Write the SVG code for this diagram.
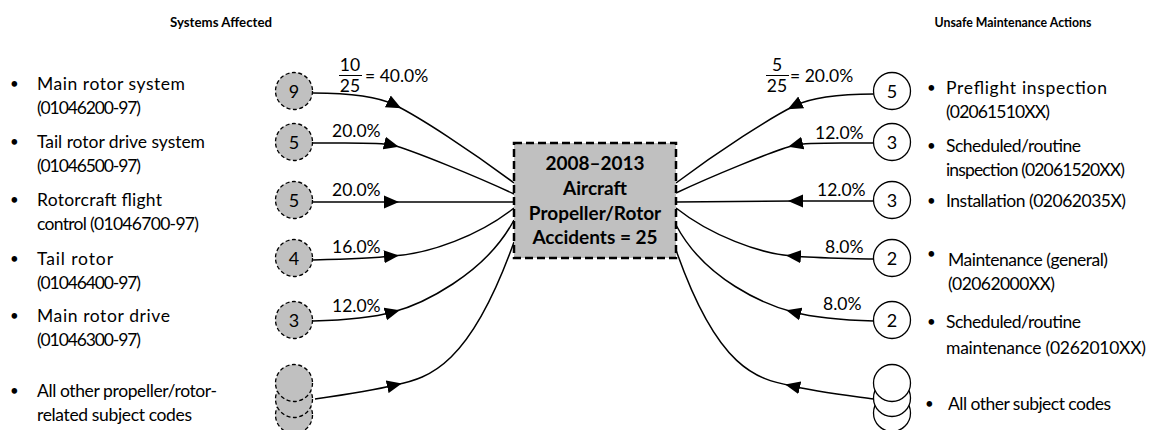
<svg xmlns="http://www.w3.org/2000/svg" width="1161" height="430" viewBox="0 0 1161 430">
<style>
.t{font-family:Lato,"Noto Sans",sans-serif;font-size:17.5px;fill:#000}
.d{font-family:Lato,"Noto Sans",sans-serif;font-size:15px;fill:#000}
.h{font-family:Lato,"Noto Sans",sans-serif;font-size:14px;font-weight:bold;fill:#000;text-anchor:middle}
.b{font-family:Lato,"Noto Sans",sans-serif;font-size:19px;font-weight:bold;fill:#000;text-anchor:middle}
.n{font-family:Lato,"Noto Sans",sans-serif;font-size:18px;fill:#000;text-anchor:middle}
.p{font-family:Lato,"Noto Sans",sans-serif;font-size:17.5px;fill:#000}
.gc{fill:#c0c0c0;stroke:#000;stroke-width:1.3;stroke-dasharray:4 2.5}
.wc{fill:#fff;stroke:#000;stroke-width:1.3}
.c{fill:none;stroke:#000;stroke-width:1.5;marker-mid:url(#arr)}
</style>
<defs>
<marker id="arr" markerUnits="userSpaceOnUse" markerWidth="16" markerHeight="14" refX="8" refY="6.5" orient="auto" viewBox="0 0 16 13">
<path d="M0,0 L15,6.5 L0,13 z" fill="#000"/>
</marker>
</defs>

<text class="h" x="221" y="27" textLength="102" lengthAdjust="spacingAndGlyphs">Systems Affected</text>
<text class="h" x="1013" y="27" textLength="157" lengthAdjust="spacingAndGlyphs">Unsafe Maintenance Actions</text>

<g id="connectors">
<path class="c" d="M313,93 C345,93 375,95 395,105 C420,117.5 470,150 514,183"/>
<path class="c" d="M313,143 C350,143 380,142 392,145 C412,150 480,178 514,194"/>
<path class="c" d="M313,202 L392,202 L514,202"/>
<path class="c" d="M313,260 C350,259 375,258 392,256 C430,254 480,235 514,208"/>
<path class="c" d="M313,321 C350,320 375,317 393,312 C420,305 485,275 514,220"/>
<path class="c" d="M315,399 C350,394 375,390 395,385 C430,378 470,365 514,242"/>

<path class="c" d="M874,94 C842,94 812,97 794,106 C770,118 720,150 676,183"/>
<path class="c" d="M874,143 C837,143 807,142 795,145 C775,150 710,177 676,193"/>
<path class="c" d="M874,201 L795,201 L676,202"/>
<path class="c" d="M874,259 C837,258 812,258 793,256 C760,254 710,235 676,208"/>
<path class="c" d="M874,321 C837,320 812,317 793,312 C766,305 705,280 676,225"/>
<path class="c" d="M874,399 C837,394 812,391 792,386 C757,379 718,370 676,250"/>
</g>

<g id="center-box">
<rect x="514" y="143" width="162" height="115" fill="#c0c0c0" stroke="#000" stroke-width="2.5" stroke-dasharray="8 4"/>
<text class="b" x="595" y="170">2008–2013</text>
<text class="b" x="595" y="195">Aircraft</text>
<text class="b" x="595" y="220">Propeller/Rotor</text>
<text class="b" x="595" y="244">Accidents = 25</text>
</g>

<g id="left-1">
<circle class="gc" cx="294" cy="91" r="18.5"/>
<text class="n" x="294" y="97.5">9</text>
<text class="d" x="10" y="89">•</text><text class="t" x="37" y="90" textLength="148" lengthAdjust="spacing">Main rotor system</text>
<text class="t" x="37" y="114" textLength="104" lengthAdjust="spacing">(01046200-97)</text>
<text class="p" x="350" y="71" text-anchor="middle">10</text>
<line x1="339" y1="75.5" x2="362" y2="75.5" stroke="#000" stroke-width="1"/>
<text class="p" x="350" y="92" text-anchor="middle">25</text>
<text class="p" x="365" y="82">= 40.0%</text>
</g>
<g id="left-2">
<circle class="gc" cx="294" cy="142" r="18.5"/>
<text class="n" x="294" y="148.5">5</text>
<text class="d" x="10" y="147">•</text><text class="t" x="37" y="148" textLength="168" lengthAdjust="spacing">Tail rotor drive system</text>
<text class="t" x="37" y="172" textLength="104" lengthAdjust="spacing">(01046500-97)</text>
<text class="p" x="332" y="137">20.0%</text>
</g>
<g id="left-3">
<circle class="gc" cx="294" cy="200" r="18.5"/>
<text class="n" x="294" y="206.5">5</text>
<text class="d" x="10" y="205">•</text><text class="t" x="37" y="206" textLength="125" lengthAdjust="spacing">Rotorcraft flight</text>
<text class="t" x="37" y="230" textLength="162" lengthAdjust="spacing">control (01046700-97)</text>
<text class="p" x="332" y="196">20.0%</text>
</g>
<g id="left-4">
<circle class="gc" cx="294" cy="258" r="18.5"/>
<text class="n" x="294" y="264.5">4</text>
<text class="d" x="10" y="264">•</text><text class="t" x="37" y="265" textLength="76" lengthAdjust="spacing">Tail rotor</text>
<text class="t" x="37" y="289" textLength="104" lengthAdjust="spacing">(01046400-97)</text>
<text class="p" x="332" y="253">16.0%</text>
</g>
<g id="left-5">
<circle class="gc" cx="294" cy="320" r="18.5"/>
<text class="n" x="294" y="326.5">3</text>
<text class="d" x="10" y="321">•</text><text class="t" x="37" y="322" textLength="133" lengthAdjust="spacing">Main rotor drive</text>
<text class="t" x="37" y="346" textLength="104" lengthAdjust="spacing">(01046300-97)</text>
<text class="p" x="332" y="312">12.0%</text>
</g>
<g id="left-6">
<circle class="gc" cx="294" cy="415" r="18.5"/>
<circle class="gc" cx="294" cy="399" r="18.5"/>
<circle class="gc" cx="294" cy="383" r="18.5"/>
<text class="d" x="10" y="396">•</text><text class="t" x="37" y="397" textLength="180" lengthAdjust="spacing">All other propeller/rotor-</text>
<text class="t" x="37" y="421" textLength="155" lengthAdjust="spacing">related subject codes</text>
</g>

<g id="right-1">
<circle class="wc" cx="892" cy="91" r="18.5"/>
<text class="n" x="892" y="97.5">5</text>
<text class="d" x="927" y="93">•</text><text class="t" x="946" y="94" textLength="161" lengthAdjust="spacing">Preflight inspection</text>
<text class="t" x="946" y="118" textLength="104" lengthAdjust="spacing">(02061510XX)</text>
<text class="p" x="777" y="71" text-anchor="middle">5</text>
<line x1="766" y1="75.5" x2="789" y2="75.5" stroke="#000" stroke-width="1"/>
<text class="p" x="777" y="92" text-anchor="middle">25</text>
<text class="p" x="790" y="82">= 20.0%</text>
</g>
<g id="right-2">
<circle class="wc" cx="892" cy="142" r="18.5"/>
<text class="n" x="892" y="148.5">3</text>
<text class="d" x="927" y="151">•</text><text class="t" x="946" y="152" textLength="135" lengthAdjust="spacing">Scheduled/routine</text>
<text class="t" x="946" y="176" textLength="179" lengthAdjust="spacing">inspection (02061520XX)</text>
<text class="p" x="815" y="139">12.0%</text>
</g>
<g id="right-3">
<circle class="wc" cx="892" cy="200" r="18.5"/>
<text class="n" x="892" y="206.5">3</text>
<text class="d" x="927" y="206">•</text><text class="t" x="946" y="207" textLength="180" lengthAdjust="spacing">Installation (02062035X)</text>
<text class="p" x="817" y="196">12.0%</text>
</g>
<g id="right-4">
<circle class="wc" cx="892" cy="258" r="18.5"/>
<text class="n" x="892" y="264.5">2</text>
<text class="d" x="927" y="259">•</text><text class="t" x="948" y="266" textLength="160" lengthAdjust="spacing">Maintenance (general)</text>
<text class="t" x="948" y="290" textLength="107" lengthAdjust="spacing">(02062000XX)</text>
<text class="p" x="825" y="253">8.0%</text>
</g>
<g id="right-5">
<circle class="wc" cx="892" cy="320" r="18.5"/>
<text class="n" x="892" y="326.5">2</text>
<text class="d" x="927" y="327">•</text><text class="t" x="946" y="328" textLength="135" lengthAdjust="spacing">Scheduled/routine</text>
<text class="t" x="946" y="354" textLength="200" lengthAdjust="spacing">maintenance (0262010XX)</text>
<text class="p" x="823" y="310">8.0%</text>
</g>
<g id="right-6">
<circle class="wc" cx="892" cy="413" r="18.5"/>
<circle class="wc" cx="892" cy="398" r="18.5"/>
<circle class="wc" cx="892" cy="383" r="18.5"/>
<text class="d" x="925" y="409">•</text><text class="t" x="948" y="410" textLength="163" lengthAdjust="spacing">All other subject codes</text>
</g>
</svg>
